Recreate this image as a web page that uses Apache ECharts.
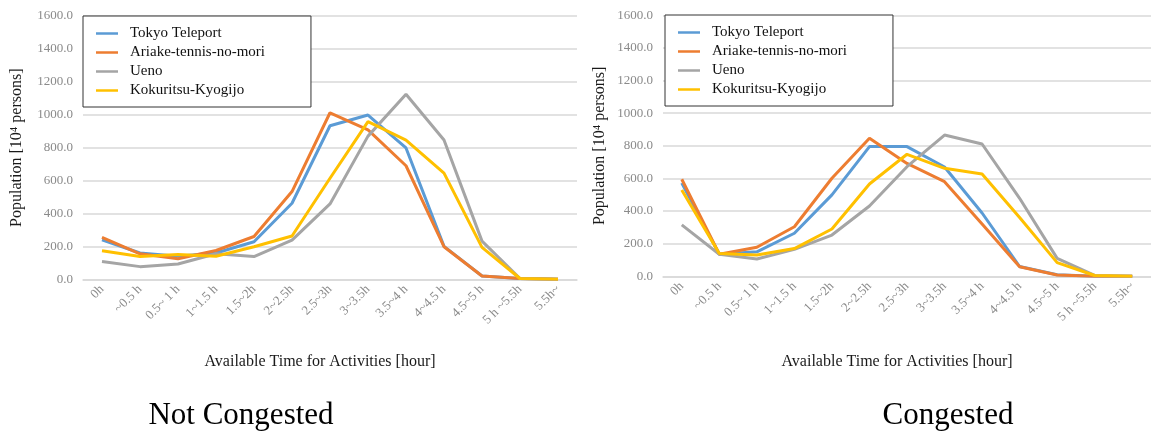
<!DOCTYPE html>
<html>
<head>
<meta charset="utf-8">
<script src="https://cdn.jsdelivr.net/npm/echarts@6/dist/echarts.min.js"></script>
<style>
html,body{margin:0;padding:0;background:#fff;}
#chart{width:1151px;height:434px;}
</style>
</head>
<body>
<div id="chart"></div>
<script>
const categories = ['0h','~0.5 h','0.5~ 1 h','1~1.5 h','1.5~2h','2~2.5h','2.5~3h','3~3.5h','3.5~4 h','4~4.5 h','4.5~5 h','5 h ~5.5h','5.5h~'];
const seriesNames = ['Tokyo Teleport','Ariake-tennis-no-mori','Ueno','Kokuritsu-Kyogijo'];
const colors = ['#5B9BD5','#ED7D31','#A5A5A5','#FFC000'];

// Not Congested
const ncTokyo    = [240,160,140,160,228,462,933,998,798,200,20,5,0];
const ncAriake   = [255,155,125,175,260,533,1012,908,690,198,20,5,0];
const ncUeno     = [108,77,93,155,138,238,458,870,1124,846,232,5,0];
const ncKokuritsu= [174,138,150,140,198,263,614,958,846,645,194,5,0];

// Congested
const cTokyo     = [572,135,150,264,499,795,795,670,388,60,10,0,0];
const cAriake    = [595,135,178,304,601,846,692,580,321,59,8,0,0];
const cUeno      = [315,135,106,165,253,431,672,866,811,478,110,5,0];
const cKokuritsu = [529,140,131,170,290,566,748,662,627,360,84,5,0];

const yTicks = {min:0, max:1600, interval:200};
const yName = 'Population [10\u2074 persons]';
const xName = 'Available Time for Activities [hour]';
const captions = ['Not Congested','Congested'];

const serif = '"Liberation Serif","DejaVu Serif",serif';
const chart = echarts.init(document.getElementById('chart'));

function yAxis(gi, gap){
  return {
    type:'value', gridIndex:gi, min:yTicks.min, max:yTicks.max, interval:yTicks.interval,
    name:yName, nameLocation:'middle', nameGap:gap, nameRotate:90,
    nameTextStyle:{fontFamily:serif, fontSize:16, color:'#1a1a1a'},
    axisLabel:{formatter:v=>v.toFixed(1), fontFamily:serif, fontSize:13, color:'#8a8a8a', margin:10},
    axisLine:{show:false}, axisTick:{show:false},
    splitLine:{lineStyle:{color:'#d9d9d9', width:1.5}}
  };
}
function xAxis(gi, gap){
  return {
    type:'category', gridIndex:gi, data:categories, boundaryGap:true,
    name:xName, nameLocation:'middle', nameGap:gap,
    nameTextStyle:{fontFamily:serif, fontSize:16, color:'#1a1a1a', padding:[0,20,0,0]},
    axisLabel:{rotate:45, interval:0, fontFamily:serif, fontSize:13, color:'#8a8a8a', margin:8},
    axisLine:{lineStyle:{color:'#d9d9d9', width:1.5}}, axisTick:{show:false}
  };
}
function legend(left, top){
  return {
    orient:'vertical', left:left, top:top, data:seriesNames,
    borderColor:'#333', borderWidth:1, backgroundColor:'#fff',
    icon:'rect', itemWidth:22, itemHeight:2.5,
    padding:[10,46,9,13], itemGap:4,
    textStyle:{fontFamily:serif, fontSize:15, color:'#111', lineHeight:15, padding:[0,0,0,7]}
  };
}
const sets = [[ncTokyo,ncAriake,ncUeno,ncKokuritsu],[cTokyo,cAriake,cUeno,cKokuritsu]];
const series = [];
sets.forEach((arrs, gi)=>{
  arrs.forEach((d, i)=>{
    series.push({
      name:seriesNames[i], type:'line', xAxisIndex:gi, yAxisIndex:gi, data:d,
      symbol:'none', smooth:false, color:colors[i],
      lineStyle:{width:3, color:colors[i]}, z: 2 + i
    });
  });
});

chart.setOption({
  animation:false,
  backgroundColor:'#fff',
  grid:[
    {left:83, top:16, width:494, height:263.3},
    {left:663, top:15.3, width:499, height:261}
  ],
  xAxis:[xAxis(0,74), xAxis(1,77)],
  yAxis:[yAxis(0,58), yAxis(1,55)],
  legend:[legend(83,16), legend(665,15)],
  series:series,
  graphic:[
    {type:'text', x:241, y:416, style:{text:captions[0], font:'31px '+serif, fill:'#000', textAlign:'center', textVerticalAlign:'middle'}},
    {type:'text', x:948, y:416, style:{text:captions[1], font:'31px '+serif, fill:'#000', textAlign:'center', textVerticalAlign:'middle'}}
  ]
});
</script>
</body>
</html>
